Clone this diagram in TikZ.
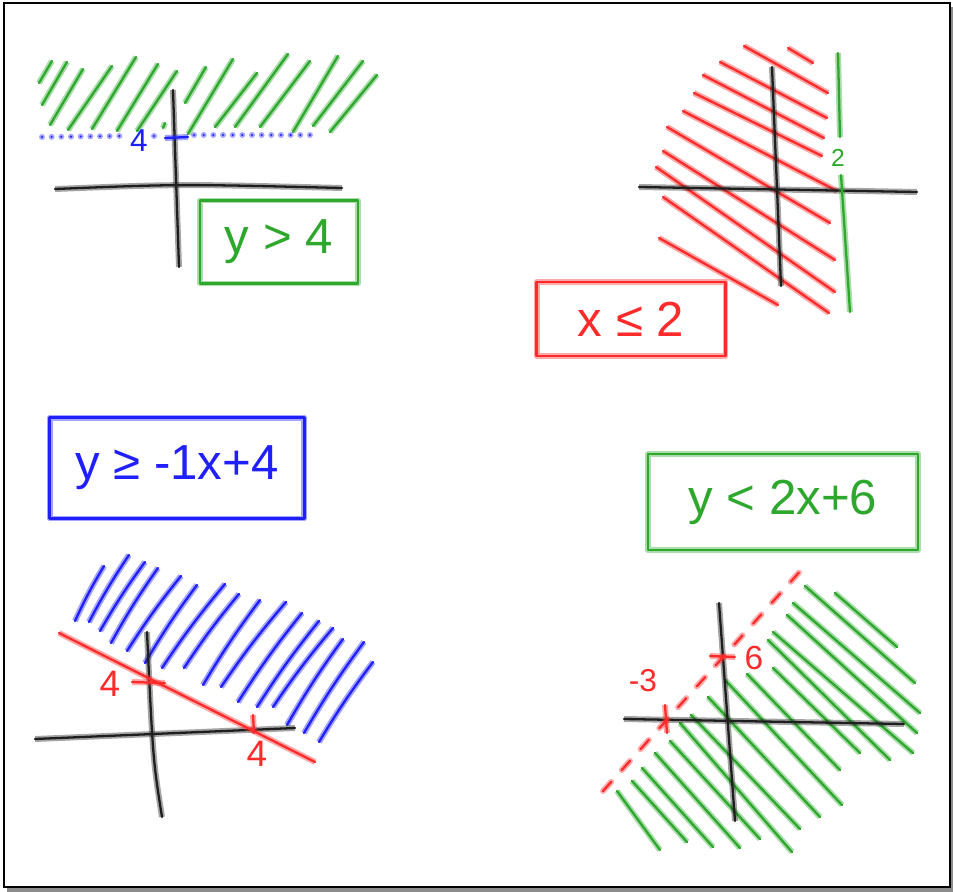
\documentclass[tikz,border=0pt]{standalone}
\usepackage{fontspec}
\setmainfont{Liberation Sans}
\definecolor{cgreen}{HTML}{2DA82D}
\definecolor{cred}{HTML}{FF2B2B}
\definecolor{cblue}{HTML}{1F1FFF}
\definecolor{cink}{HTML}{1E1E1E}
\tikzset{
  every picture/.style={x=0.02cm, y=-0.02cm},
  pen/.style={draw=#1, line width=1.3pt, line cap=round, line join=round,
    preaction={draw=#1, draw opacity=0.4, line width=3.4pt}},
  pen/.default=cink,
  dashpen/.style 2 args={draw=#1, line width=1.3pt, line cap=round, dash pattern=#2,
    preaction={draw=#1, draw opacity=0.4, line width=3.4pt, line cap=round, dash pattern=#2}},
  tag/.style={pen=#1, text=#1, font=\fontsize{28}{30}\selectfont, inner sep=0pt},
  num/.style={text=#1, font=\fontsize{19}{21}\selectfont, inner sep=1pt},
}

\begin{document}
\begin{tikzpicture}
  % page and frame
  \useasboundingbox (0,0) rectangle (953,892);
  \fill[black!45] (7,7) rectangle (953,892);
  \filldraw[fill=white, draw=black, line width=1.2pt] (4,3) rectangle (950,887);

  % y > 4
  \foreach \xa/\ya/\xb/\yb in {39/83/52/61, 42/105/67/62, 50/125/83/69, 68/130/112/66,
      92/129/136/57, 117/131/158/64, 137/131/177/71, 163/128/165/123, 185/103/206/67,
      188/134/233/59, 215/127/257/73, 235/127/288/54, 260/127/310/61, 293/132/338/56,
      313/126/363/61, 330/132/377/75}
    \draw[pen=cgreen] (\xa,\ya) -- (\xb,\yb);
  \draw[pen] (55,189) .. controls (180,184) .. (342,188);
  \draw[pen] (173,90) -- (179,267);
  \draw[dashpen={cblue}{on 0pt off 5.5pt}] (42,137) -- (120,136) (154,136) -- (156,136) (194,135) -- (318,135);
  \draw[pen=cblue] (165,138) -- (188,137);
  \node[num=cblue, font=\fontsize{18}{20}\selectfont] (ya) at (139,141) {4};
  \node[tag=cgreen, minimum width=3.16cm, minimum height=1.66cm] (ygt) at (279,242) {y > 4};

  % x <= 2
  \foreach \xa/\ya/\xb/\yb in {744/46/828/93, 788/48/813/63, 720/62/827/118, 703/75/824/138,
      694/93/822/156, 683/111/837/191, 667/127/830/223, 663/151/835/260, 656/167/835/292,
      663/197/829/313, 659/238/778/305}
    \draw[pen=cred] (\xa,\ya) -- (\xb,\yb);
  \draw[pen] (639,187) -- (917,192);
  \draw[pen] (772,67) -- (781,286);
  \draw[pen=cgreen] (838,53) -- (840,137);
  \draw[pen=cgreen] (841,175) -- (850,312);
  \node[num=cgreen, font=\fontsize{14}{16}\selectfont] (xb) at (838,158) {2};
  \node[tag=cred, minimum width=3.78cm, minimum height=1.48cm] (xle) at (631,319) {x ≤ 2};

  % y >= -1x+4
  \node[tag=cblue, minimum width=5.1cm, minimum height=2.02cm] (yge) at (177,468) {y ≥ -1x+4};
  \foreach \xa/\ya/\xb/\yb in {75/621/104/566, 89/622/129/555, 100/631/145/562, 111/643/158/568,
      127/651/181/576, 145/663/197/585, 162/668/225/584, 184/668/239/594, 203/685/260/600,
      221/687/286/602, 238/702/302/613, 257/707/319/621, 273/707/333/628, 287/725/343/639,
      304/733/364/642, 319/742/373/662}
    \draw[pen=cblue] (\xa,\ya) to[bend left=3] (\xb,\yb);
  \draw[pen] (35,739) -- (295,728);
  \draw[pen] (147,632) .. controls (153,760) .. (162,817);
  \draw[pen=cred] (59,633) -- (315,762);
  \draw[pen=cred] (132,682) -- (165,683);
  \draw[pen=cred] (253,715) -- (254,733);
  \node[num=cred, font=\fontsize{21}{23}\selectfont] (ba) at (110,684) {4};
  \node[num=cred, font=\fontsize{21}{23}\selectfont] (bb) at (257,754) {4};

  % y < 2x+6
  \node[tag=cgreen, minimum width=5.4cm, minimum height=1.92cm] (ylt) at (783,502) {y < 2x+6};
  \foreach \xa/\ya/\xb/\yb in {835/593/897/647, 805/586/915/683, 793/603/920/713, 787/615/917/733,
      773/632/913/753, 768/640/890/760, 773/668/860/753, 747/674/840/770, 725/680/842/805,
      708/697/820/817, 691/715/800/829, 680/723/792/852, 670/741/760/839, 655/753/740/848,
      642/768/713/847, 632/781/687/842, 617/791/660/850}
    \draw[pen=cgreen] (\xa,\ya) -- (\xb,\yb);
  \draw[pen] (624,719) -- (904,724);
  \draw[pen] (719,603) -- (735,821);
  \draw[dashpen={cred}{on 7pt off 9pt}] (603,791) -- (803,568);
  \draw[pen=cred] (710,656) -- (735,657);
  \draw[pen=cred] (665,705) -- (667,733);
  \node[num=cred] (la) at (754,658) {6};
  \node[num=cred, font=\fontsize{18}{20}\selectfont] (lb) at (643,681) {-3};
\end{tikzpicture}
\end{document}
